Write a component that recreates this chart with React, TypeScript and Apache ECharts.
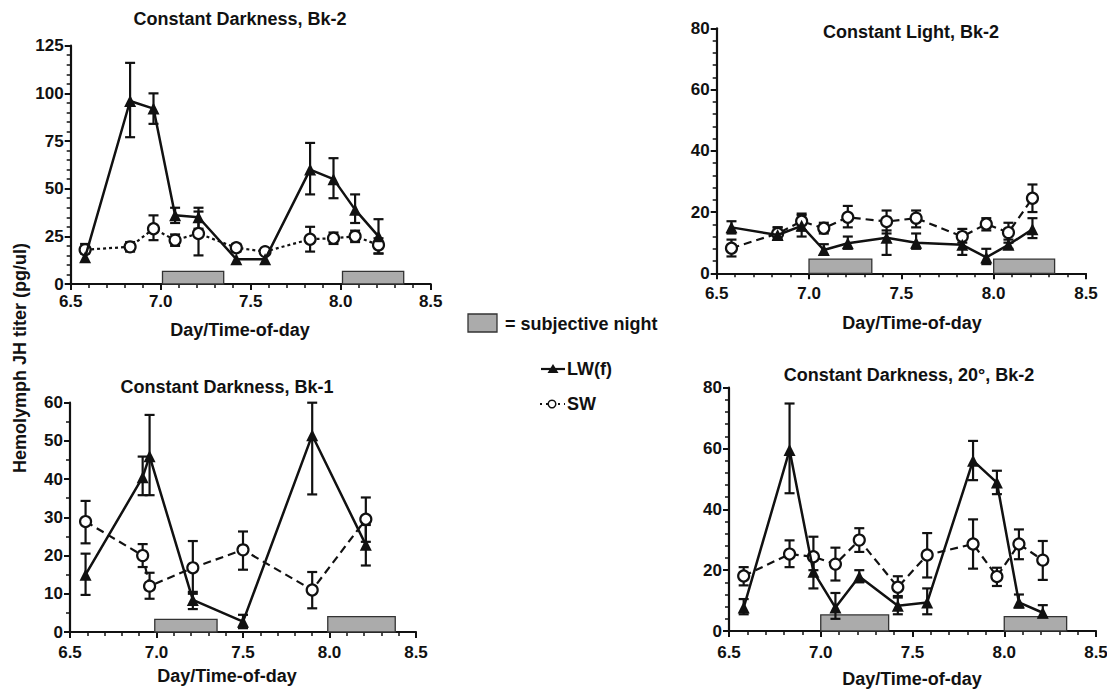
import React, { useEffect, useRef } from "react";
import * as echarts from "echarts";

const FONT = '"Liberation Sans", Arial, Helvetica, sans-serif';
const INK = "#111111";
const NIGHT_FILL = "#ababab";
const NIGHT_EDGE = "#333333";

// ---------- data ----------
const X_TICKS = [6.5, 7.0, 7.5, 8.0, 8.5];

const TIMES_A = [6.58, 6.83, 6.96, 7.08, 7.21, 7.42, 7.58, 7.83, 7.96, 8.08, 8.21];
const TIMES_B = [6.59, 6.92, 6.96, 7.21, 7.5, 7.9, 8.21];

// Panel 1: Constant Darkness, Bk-2
const P1_LW = [14, 96, 92, 36, 35, 13, 13, 60, 55, 39, 25];
const P1_LW_LO = [14, 77, 84, 32, 29, 13, 13, 47, 45, 32, 16];
const P1_LW_HI = [14, 116, 100, 40, 40, 13, 13, 74, 66, 47, 34];
const P1_SW = [18, 19.5, 29, 23, 26.5, 19, 17, 23.5, 24, 25, 20.5];
const P1_SW_LO = [16, 17, 23, 20, 15, 17, 16, 17, 21, 22, 16];
const P1_SW_HI = [21, 22, 36, 26, 38, 21, 18, 30, 27, 28, 24];
const P1_NIGHT_START = [7.01, 8.01];
const P1_NIGHT_END = [7.35, 8.35];
const P1_NIGHT_TOP = [6.6, 6.6];

// Panel 2: Constant Light, Bk-2
const P2_LW = [15, 12.5, 15.5, 7.6, 9.8, 11.6, 10, 9.3, 5.2, 9.3, 14.4];
const P2_LW_LO = [13, 11, 12, 6, 8, 6, 8, 6, 3, 8, 11.5];
const P2_LW_HI = [17, 15, 19, 9.5, 12, 14, 13, 12, 8, 11, 18];
const P2_SW = [8.2, 13, 17, 14.7, 18.3, 16.9, 18, 12, 16.1, 13.3, 24.5];
const P2_SW_LO = [5.5, 11, 14, 13, 15, 13, 15, 10, 14, 10, 20];
const P2_SW_HI = [11, 15, 19.5, 16.5, 22, 20.5, 20.5, 14.5, 18, 16.5, 29];
const P2_NIGHT_START = [7.0, 8.0];
const P2_NIGHT_END = [7.34, 8.33];
const P2_NIGHT_TOP = [4.6, 4.6];

// Panel 3: Constant Darkness, Bk-1
const P3_LW = [15, 40.5, 46, 8.4, 2.7, 51.5, 22.8];
const P3_LW_LO = [9.7, 35.8, 35.8, 6, 1, 36, 17.4];
const P3_LW_HI = [20.5, 45.9, 56.8, 10.5, 4.5, 60, 28];
const P3_SW = [28.9, 20, 12, 16.8, 21.5, 11, 29.5];
const P3_SW_LO = [23.2, 17, 8.7, 10, 16.3, 6.2, 23.6];
const P3_SW_HI = [34.3, 23, 15.5, 23.8, 26.3, 15.7, 35.2];
const P3_NIGHT_START = [6.99, 7.99];
const P3_NIGHT_END = [7.35, 8.38];
const P3_NIGHT_TOP = [3.3, 4.0];

// Panel 4: Constant Darkness, 20°, Bk-2
const P4_LW = [7.7, 59.5, 19.5, 7.7, 17.9, 8.3, 9.4, 56, 48.8, 9.4, 6];
const P4_LW_LO = [5.5, 45.3, 14, 4, 16, 5.5, 5.5, 49.6, 45, 7.7, 4.5];
const P4_LW_HI = [10.5, 74.8, 25, 12.5, 20, 11, 14, 62.5, 52.7, 12, 8.5];
const P4_SW = [18.1, 25.3, 24.4, 22, 29.9, 14.4, 25, 28.6, 17.9, 28.6, 23.3];
const P4_SW_LO = [15, 21, 20, 16.6, 26, 11.5, 17.6, 20.5, 14.8, 23.6, 16.8];
const P4_SW_HI = [21, 29.8, 31, 27.4, 33.8, 18, 32.2, 36.7, 20.8, 33.4, 29.6];
const P4_NIGHT_START = [7.0, 8.0];
const P4_NIGHT_END = [7.37, 8.34];
const P4_NIGHT_TOP = [5.3, 4.7];

const TITLES = [
  "Constant Darkness, Bk-2",
  "Constant Light, Bk-2",
  "Constant Darkness, Bk-1",
  "Constant Darkness, 20°, Bk-2",
];
const X_NAME = "Day/Time-of-day";
const Y_NAME = "Hemolymph JH titer (pg/ul)";
const LEGEND_NIGHT = "= subjective night";
const LEGEND_LW = "LW(f)";
const LEGEND_SW = "SW";

// ---------- layout ----------
const PANELS = [
  {
    times: TIMES_A, lw: P1_LW, lwLo: P1_LW_LO, lwHi: P1_LW_HI,
    sw: P1_SW, swLo: P1_SW_LO, swHi: P1_SW_HI,
    ns: P1_NIGHT_START, ne: P1_NIGHT_END, nt: P1_NIGHT_TOP,
    yMax: 125, yStep: 25, yMinor: 5, swDash: [3, 3],
    grid: { left: 70.7, top: 45.7, width: 360, height: 238.3 },
    title: [240, 19], xname: [240, 330], xMargin: 9,
  },
  {
    times: TIMES_A, lw: P2_LW, lwLo: P2_LW_LO, lwHi: P2_LW_HI,
    sw: P2_SW, swLo: P2_SW_LO, swHi: P2_SW_HI,
    ns: P2_NIGHT_START, ne: P2_NIGHT_END, nt: P2_NIGHT_TOP,
    yMax: 80, yStep: 20, yMinor: 5, swDash: [8, 5],
    grid: { left: 716.7, top: 28.3, width: 369.3, height: 245 },
    title: [911, 32], xname: [912, 323], xMargin: 12,
  },
  {
    times: TIMES_B, lw: P3_LW, lwLo: P3_LW_LO, lwHi: P3_LW_HI,
    sw: P3_SW, swLo: P3_SW_LO, swHi: P3_SW_HI,
    ns: P3_NIGHT_START, ne: P3_NIGHT_END, nt: P3_NIGHT_TOP,
    yMax: 60, yStep: 10, yMinor: 2, swDash: [8, 5],
    grid: { left: 70, top: 402.7, width: 346, height: 229.3 },
    title: [227, 387], xname: [227, 676], xMargin: 12,
  },
  {
    times: TIMES_A, lw: P4_LW, lwLo: P4_LW_LO, lwHi: P4_LW_HI,
    sw: P4_SW, swLo: P4_SW_LO, swHi: P4_SW_HI,
    ns: P4_NIGHT_START, ne: P4_NIGHT_END, nt: P4_NIGHT_TOP,
    yMax: 80, yStep: 20, yMinor: 5, swDash: [8, 5],
    grid: { left: 729, top: 387.7, width: 367, height: 243.3 },
    title: [909, 375], xname: [912, 679], xMargin: 13,
  },
];

const labelStyle = {
  fontSize: 17,
  fontWeight: "bold" as const,
  color: INK,
  fontFamily: FONT,
};

function errorRender(params: any, api: any) {
  const x = api.value(0);
  const lo = api.value(1);
  const hi = api.value(2);
  const a = api.coord([x, hi]);
  const b = api.coord([x, lo]);
  const hw = 5;
  const style = { stroke: INK, lineWidth: 2.2 };
  return {
    type: "group",
    children: [
      { type: "line", shape: { x1: a[0], y1: a[1], x2: b[0], y2: b[1] }, style },
      { type: "line", shape: { x1: a[0] - hw, y1: a[1], x2: a[0] + hw, y2: a[1] }, style },
      { type: "line", shape: { x1: b[0] - hw, y1: b[1], x2: b[0] + hw, y2: b[1] }, style },
    ],
  };
}

function errData(times: number[], lo: number[], hi: number[]) {
  const out: number[][] = [];
  times.forEach((t, k) => {
    if (hi[k] > lo[k]) out.push([t, lo[k], hi[k]]);
  });
  return out;
}

function buildOption() {
  const grid: any[] = [];
  const xAxis: any[] = [];
  const yAxis: any[] = [];
  const series: any[] = [];
  const graphic: any[] = [];

  const txt = (x: number, y: number, text: string, align: string, extra: any = {}) => ({
    type: "text",
    x,
    y,
    ...extra,
    style: {
      text,
      fontSize: 18,
      fontWeight: "bold",
      fontFamily: FONT,
      fill: INK,
      align,
      verticalAlign: "middle",
    },
  });

  PANELS.forEach((p, i) => {
    grid.push({ ...p.grid, containLabel: false, outerBoundsMode: "none" });
    xAxis.push({
      type: "value",
      gridIndex: i,
      min: X_TICKS[0],
      max: X_TICKS[X_TICKS.length - 1],
      interval: 0.5,
      axisLine: { show: true, onZero: false, lineStyle: { color: INK, width: 2.2 } },
      axisTick: { show: true, length: 6, lineStyle: { color: INK, width: 2 } },
      minorTick: { show: true, splitNumber: 5, length: 4, lineStyle: { color: INK, width: 1.5 } },
      splitLine: { show: false },
      minorSplitLine: { show: false },
      axisLabel: { ...labelStyle, margin: p.xMargin, formatter: (v: number) => v.toFixed(1) },
    });
    yAxis.push({
      type: "value",
      gridIndex: i,
      min: 0,
      max: p.yMax,
      interval: p.yStep,
      axisLine: { show: true, onZero: false, lineStyle: { color: INK, width: 2.2 } },
      axisTick: { show: true, length: 6, lineStyle: { color: INK, width: 2 } },
      minorTick: { show: true, splitNumber: p.yMinor, length: 4, lineStyle: { color: INK, width: 1.5 } },
      splitLine: { show: false },
      minorSplitLine: { show: false },
      axisLabel: { ...labelStyle, margin: 7 },
    });

    series.push({
      type: "custom",
      xAxisIndex: i,
      yAxisIndex: i,
      renderItem: errorRender,
      encode: { x: 0, y: [1, 2] },
      data: errData(p.times, p.swLo, p.swHi),
      z: 2,
      silent: true,
    });
    series.push({
      type: "custom",
      xAxisIndex: i,
      yAxisIndex: i,
      renderItem: errorRender,
      encode: { x: 0, y: [1, 2] },
      data: errData(p.times, p.lwLo, p.lwHi),
      z: 2,
      silent: true,
    });
    series.push({
      type: "line",
      name: LEGEND_SW,
      xAxisIndex: i,
      yAxisIndex: i,
      data: p.times.map((t, k) => [t, p.sw[k]]),
      symbol: "circle",
      symbolSize: 11,
      showAllSymbol: true,
      itemStyle: { color: "#ffffff", borderColor: INK, borderWidth: 2.2 },
      lineStyle: { color: INK, width: 2.2, type: p.swDash },
      z: 3,
      silent: true,
    });
    series.push({
      type: "line",
      name: LEGEND_LW,
      xAxisIndex: i,
      yAxisIndex: i,
      data: p.times.map((t, k) => [t, p.lw[k]]),
      symbol: "triangle",
      symbolSize: 12,
      showAllSymbol: true,
      itemStyle: { color: INK },
      lineStyle: { color: INK, width: 2.5 },
      z: 4,
      silent: true,
      markArea: {
        silent: true,
        itemStyle: { color: NIGHT_FILL, borderColor: NIGHT_EDGE, borderWidth: 1.3, opacity: 1 },
        data: p.ns.map((s, k) => [
          { xAxis: s, yAxis: 0 },
          { xAxis: p.ne[k], yAxis: p.nt[k] },
        ]),
      },
    });

    graphic.push(txt(p.title[0], p.title[1], TITLES[i], "center"));
    graphic.push(txt(p.xname[0], p.xname[1], X_NAME, "center"));
  });

  graphic.push(txt(20, 358, Y_NAME, "center", { rotation: Math.PI / 2 }));

  // legend
  graphic.push({
    type: "rect",
    shape: { x: 468, y: 314, width: 29, height: 18 },
    style: { fill: NIGHT_FILL, stroke: NIGHT_EDGE, lineWidth: 1.3 },
  });
  graphic.push(txt(505, 324, LEGEND_NIGHT, "left"));
  graphic.push({
    type: "line",
    shape: { x1: 541, y1: 369, x2: 565, y2: 369 },
    style: { stroke: INK, lineWidth: 2.2 },
  });
  graphic.push({
    type: "polygon",
    shape: { points: [[547.5, 373], [558.5, 373], [553, 364]] },
    style: { fill: INK },
  });
  graphic.push(txt(567, 369, LEGEND_LW, "left"));
  graphic.push({
    type: "line",
    shape: { x1: 540, y1: 404, x2: 565, y2: 404 },
    style: { stroke: INK, lineWidth: 2, lineDash: [2, 4] },
  });
  graphic.push({
    type: "circle",
    shape: { cx: 552, cy: 404, r: 3.8 },
    style: { fill: "#ffffff", stroke: INK, lineWidth: 1.5 },
  });
  graphic.push(txt(567, 404, LEGEND_SW, "left"));

  return {
    animation: false,
    backgroundColor: "#ffffff",
    textStyle: { fontFamily: FONT },
    grid,
    xAxis,
    yAxis,
    series,
    graphic,
  };
}

export default function App() {
  const ref = useRef<HTMLDivElement>(null);
  useEffect(() => {
    if (!ref.current) return;
    const chart = echarts.init(ref.current, undefined, { renderer: "svg" });
    chart.setOption(buildOption() as any);
    return () => chart.dispose();
  }, []);
  return (
    <div
      ref={ref}
      style={{
        position: "fixed",
        left: 0,
        top: 0,
        width: 1107,
        height: 689,
        background: "#fff",
      }}
    />
  );
}
